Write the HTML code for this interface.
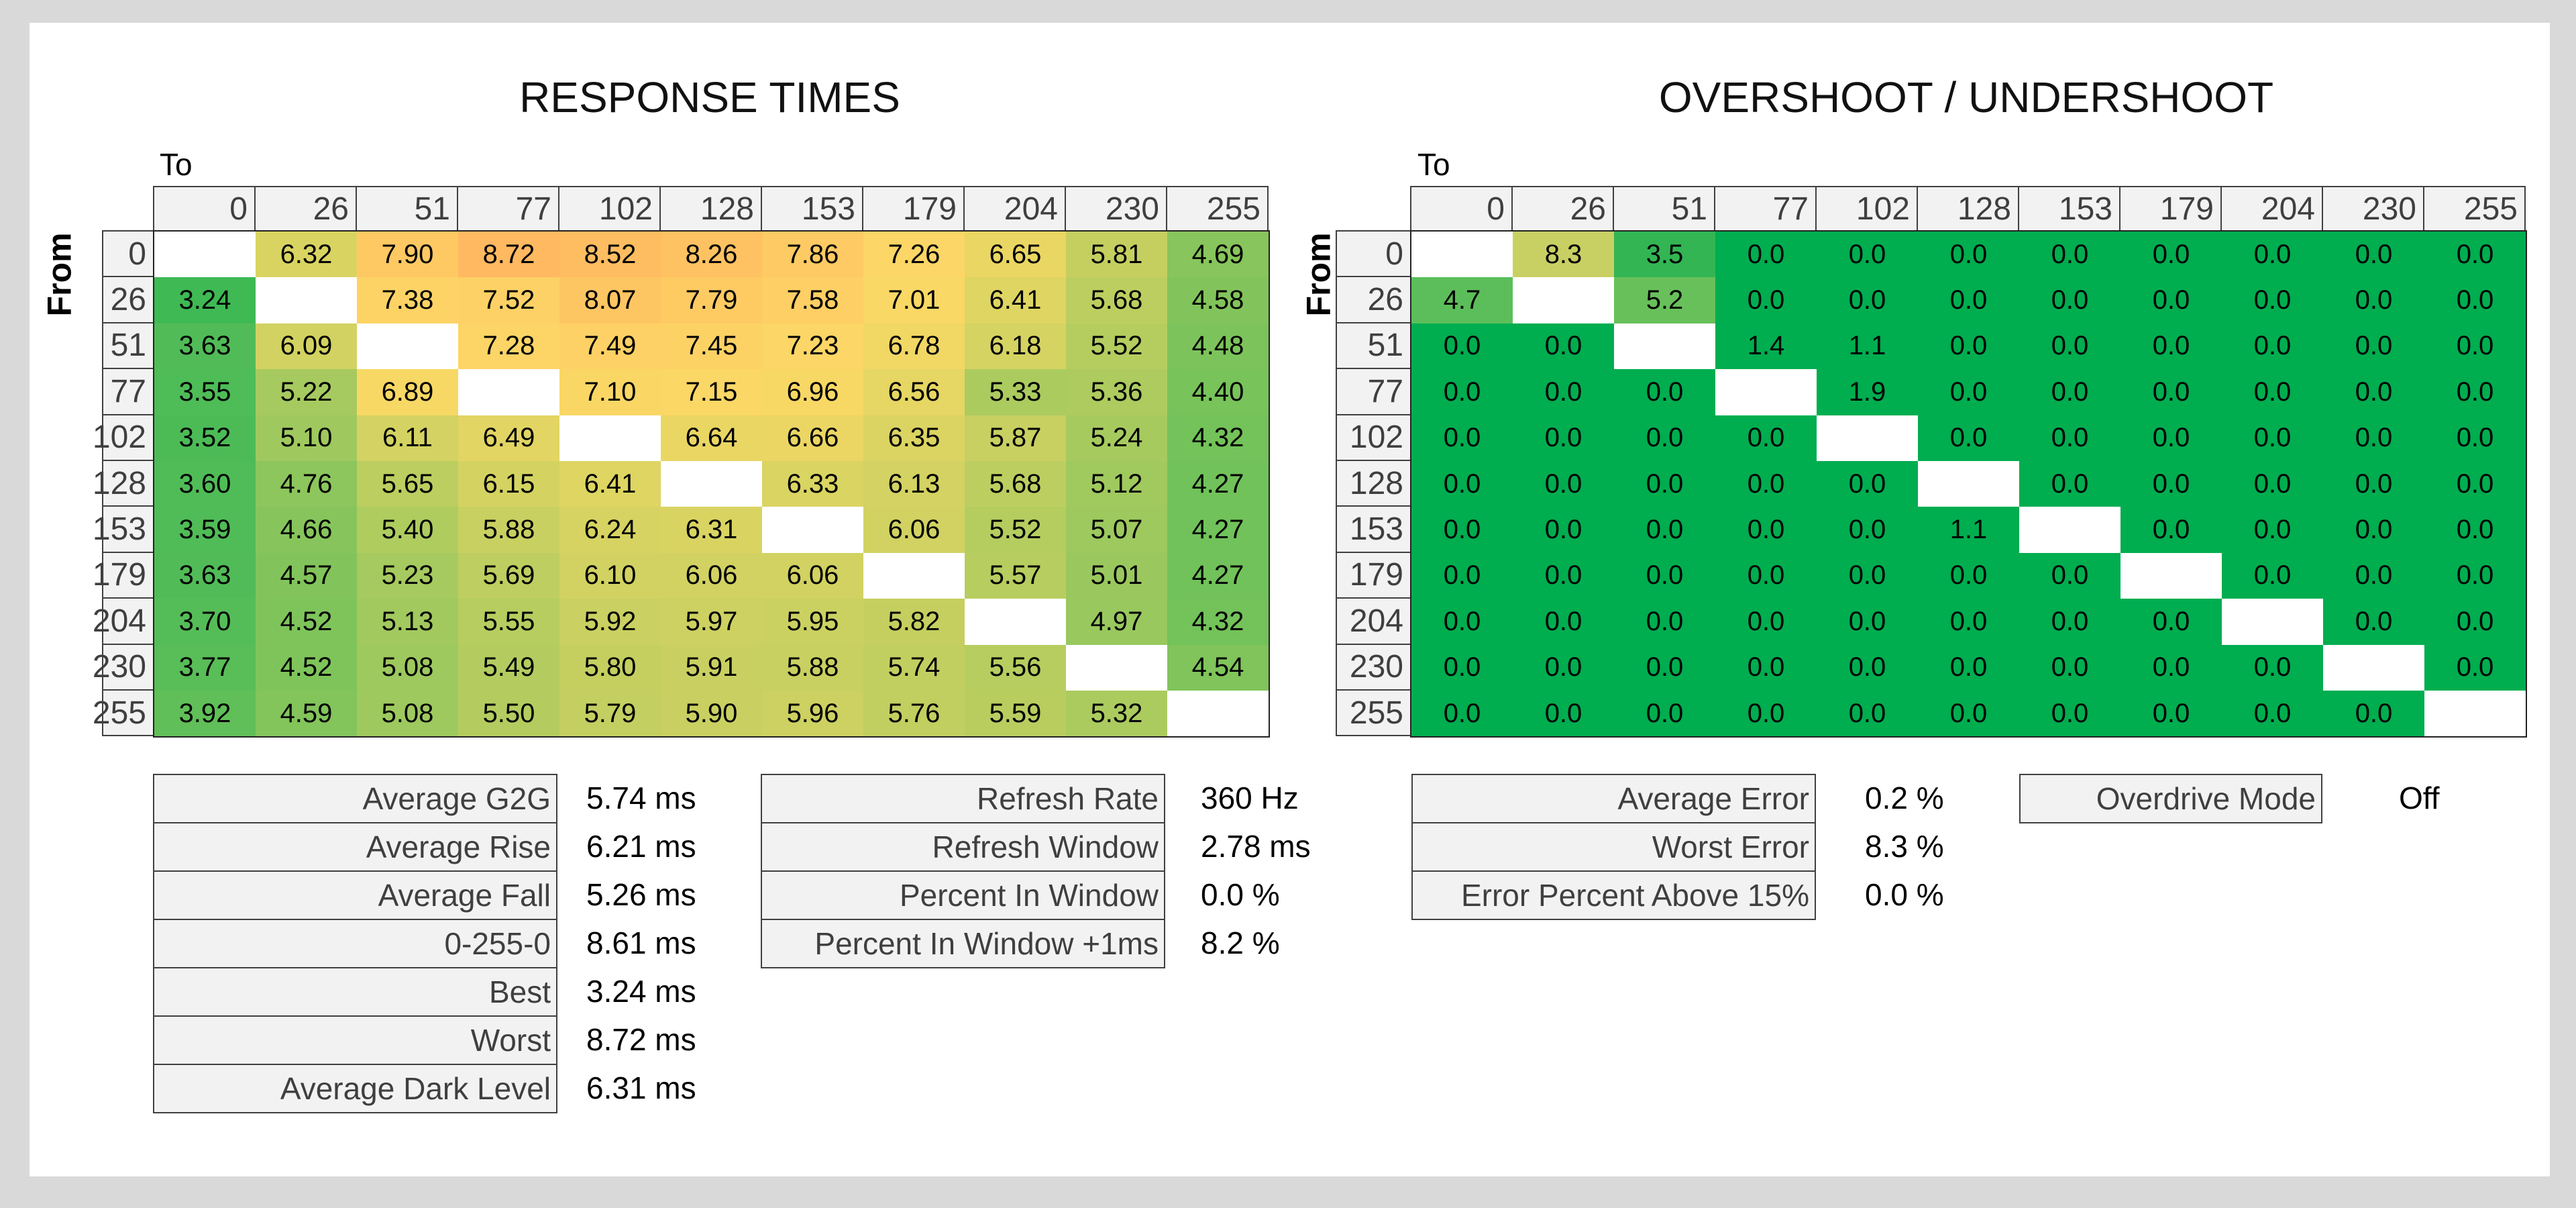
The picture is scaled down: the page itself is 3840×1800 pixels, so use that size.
<!DOCTYPE html>
<html><head><meta charset="utf-8">
<style>
html,body{margin:0;padding:0;}
body{width:3840px;height:1800px;background:#d9d9d9;position:relative;overflow:hidden;font-family:"Liberation Sans",sans-serif;}
#panel{position:absolute;left:44px;top:34px;width:3757px;height:1719px;background:#fff;}
.abs{position:absolute;box-sizing:border-box;}
.title{position:absolute;font-size:64px;font-weight:normal;color:#111;transform:translateX(-50%);white-space:nowrap;letter-spacing:0px;}
.hdr{background:#f2f2f2;border:2px solid #404040;color:#3f3f3f;font-size:48px;text-align:right;padding-right:10px;display:flex;align-items:center;justify-content:flex-end;}
.cell{font-size:40px;color:#000;display:flex;align-items:center;justify-content:center;}
.lbl{background:#f2f2f2;border:2px solid #404040;color:#3f3f3f;font-size:46px;display:flex;align-items:center;justify-content:flex-end;padding-right:8px;white-space:nowrap;}
.val{font-size:46px;color:#000;display:flex;align-items:center;white-space:nowrap;}
.axis{font-size:46px;color:#000;}
.from{font-size:50px;color:#000;font-weight:bold;}
</style></head>
<body>
<div id="panel"></div>
<div class="title" style="left:1058px;top:108px;">RESPONSE TIMES</div>
<div class="title" style="left:2931px;top:108px;">OVERSHOOT / UNDERSHOOT</div>
<div class="abs axis" style="left:238px;top:218px;">To</div>
<div class="abs axis" style="left:2113px;top:218px;">To</div>
<div class="abs from" style="left:26px;top:380px;transform:rotate(-90deg);transform-origin:center;">From</div>
<div class="abs from" style="left:1903px;top:380px;transform:rotate(-90deg);transform-origin:center;">From</div>
<div id="root"></div>
<script>
const levels=["0","26","51","77","102","128","153","179","204","230","255"];
const rtRows=[
[null,6.32,7.90,8.72,8.52,8.26,7.86,7.26,6.65,5.81,4.69],
[3.24,null,7.38,7.52,8.07,7.79,7.58,7.01,6.41,5.68,4.58],
[3.63,6.09,null,7.28,7.49,7.45,7.23,6.78,6.18,5.52,4.48],
[3.55,5.22,6.89,null,7.10,7.15,6.96,6.56,5.33,5.36,4.40],
[3.52,5.10,6.11,6.49,null,6.64,6.66,6.35,5.87,5.24,4.32],
[3.60,4.76,5.65,6.15,6.41,null,6.33,6.13,5.68,5.12,4.27],
[3.59,4.66,5.40,5.88,6.24,6.31,null,6.06,5.52,5.07,4.27],
[3.63,4.57,5.23,5.69,6.10,6.06,6.06,null,5.57,5.01,4.27],
[3.70,4.52,5.13,5.55,5.92,5.97,5.95,5.82,null,4.97,4.32],
[3.77,4.52,5.08,5.49,5.80,5.91,5.88,5.74,5.56,null,4.54],
[3.92,4.59,5.08,5.50,5.79,5.90,5.96,5.76,5.59,5.32,null]];
const osRows=[
[null,8.3,3.5,0,0,0,0,0,0,0,0],
[4.7,null,5.2,0,0,0,0,0,0,0,0],
[0,0,null,1.4,1.1,0,0,0,0,0,0],
[0,0,0,null,1.9,0,0,0,0,0,0],
[0,0,0,0,null,0,0,0,0,0,0],
[0,0,0,0,0,null,0,0,0,0,0],
[0,0,0,0,0,1.1,null,0,0,0,0],
[0,0,0,0,0,0,0,null,0,0,0],
[0,0,0,0,0,0,0,0,null,0,0],
[0,0,0,0,0,0,0,0,0,null,0],
[0,0,0,0,0,0,0,0,0,0,null]];
const rtStatLabels=["Average G2G","Average Rise","Average Fall","0-255-0","Best","Worst","Average Dark Level"];
const rtStatValues=["5.74 ms","6.21 ms","5.26 ms","8.61 ms","3.24 ms","8.72 ms","6.31 ms"];
const rrStatLabels=["Refresh Rate","Refresh Window","Percent In Window","Percent In Window +1ms"];
const rrStatValues=["360 Hz","2.78 ms","0.0 %","8.2 %"];
const osStatLabels=["Average Error","Worst Error","Error Percent Above 15%"];
const osStatValues=["0.2 %","8.3 %","0.0 %"];
const odLabels=["Overdrive Mode"];
const odValues=["Off"];

const rtStops=[[3.24,[63,185,84]],[3.6,[80,188,87]],[4.32,[116,194,90]],[4.54,[128,196,91]],[4.97,[152,200,94]],[5.32,[171,203,95]],[5.57,[184,205,95]],[6.09,[210,210,98]],[6.32,[217,212,98]],[6.89,[247,216,100]],[7.2,[252,215,102]],[7.9,[254,201,99]],[8.72,[255,185,97]]];
const osStops=[[0,[0,173,79]],[1.9,[0,173,79]],[3.5,[51,181,84]],[4.7,[92,190,90]],[5.2,[104,192,91]],[8.3,[200,208,100]]];
function colorOf(v,stops){
  if(v<=stops[0][0])return 'rgb('+stops[0][1].join(',')+')';
  for(let i=1;i<stops.length;i++){
    if(v<=stops[i][0]){const a=stops[i-1],b=stops[i],t=(v-a[0])/(b[0]-a[0]);
      return 'rgb('+a[1].map((c,k)=>Math.round(c+(b[1][k]-c)*t)).join(',')+')';}
  }
  return 'rgb('+stops[stops.length-1][1].join(',')+')';
}
const root=document.getElementById('root');
function mk(cls,x,y,w,h,txt){const d=document.createElement('div');d.className='abs '+cls;d.style.left=x+'px';d.style.top=y+'px';d.style.width=w+'px';d.style.height=h+'px';if(txt!==undefined)d.textContent=txt;root.appendChild(d);return d;}
function grid(rows,gx,lx,stops,dec,prefix){
  const top=277,hh=66,rh=68.4,cw=151;
  levels.forEach((l,i)=>{
    const h=mk('hdr',gx+i*cw,top,cw+2,hh+2,l);
    
    
    const r=mk('hdr',lx,top+hh+i*rh,gx-lx+2,rh+2,l);
    
    
  });
  rows.forEach((row,ri)=>row.forEach((v,ci)=>{
    const c=mk('cell',gx+2+ci*cw,top+hh+2+ri*rh,cw,rh,v===null?'':v.toFixed(dec));
    c.style.background=v===null?'#fff':colorOf(v,stops);
    
    
  }));
  const frame=mk('',gx,top+hh,cw*11+4,rh*11+4);frame.style.border='2px solid #222';frame.style.zIndex='5';
  
  
}
grid(rtRows,228,152,rtStops,2,'rt');
grid(osRows,2102,1991,osStops,1,'os');
function stats(labels,values,x,w,vx,prefix){
  const top=1153,rh=72;
  labels.forEach((l,i)=>{
    const b=mk('lbl',x,top+i*rh,w,rh+2,l);
    
    
    const v=mk('val',vx,top+i*rh,400,rh,values[i]);
    
    
  });
}
stats(rtStatLabels,rtStatValues,228,603,874,'rt-stat');
stats(rrStatLabels,rrStatValues,1134,603,1790,'refresh-stat');
stats(osStatLabels,osStatValues,2104,603,2780,'os-stat');
stats(odLabels,odValues,3010,452,3576,'overdrive-stat');
</script>
</body></html>
